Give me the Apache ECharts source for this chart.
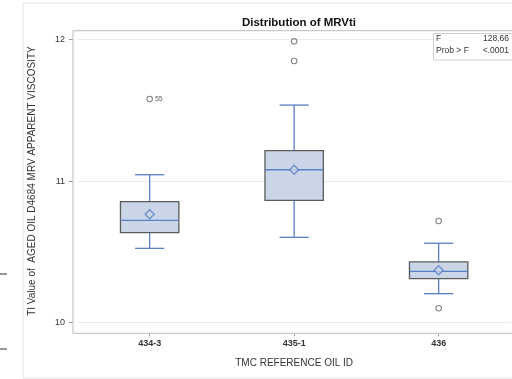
<!DOCTYPE html>
<html><head><meta charset="utf-8">
<script src="https://cdn.jsdelivr.net/npm/echarts@6/dist/echarts.min.js"></script>
<style>html,body{margin:0;padding:0;background:#fff}#c{width:512px;height:379px}</style>
</head><body><div id="c"></div>
<script>
const categories = ['434-3', '435-1', '436'];
const whiskerLow = [10.525, 10.603, 10.205];
const q1 = [10.636, 10.864, 10.311];
const median = [10.723, 11.08, 10.363];
const q3 = [10.855, 11.215, 10.429];
const whiskerHigh = [11.045, 11.537, 10.561];
const means = [10.766, 11.08, 10.37];
const outlierCat = [0, 1, 1, 2, 2];
const outlierVal = [11.58, 11.987, 11.848, 10.718, 10.102];
const outlierLabels = ['55', '', '', '', ''];
const yTicks = [10, 11, 12];

const FONT = '"Liberation Sans", Arial, sans-serif';
const BLUE = '#5a7fc6';
const FILL = '#cad6e7';
const EDGE = '#5c5c5c';

const boxData = categories.map((c, i) => [i, whiskerLow[i], q1[i], median[i], q3[i], whiskerHigh[i]]);
const meanData = categories.map((c, i) => [i, means[i]]);
const outData = outlierVal.map((v, i) => ({ value: [outlierCat[i], v], label: { show: !!outlierLabels[i], formatter: outlierLabels[i] } }));

const chart = echarts.init(document.getElementById('c'), null, { renderer: 'canvas' });
chart.setOption({
  animation: false,
  backgroundColor: '#fff',
  textStyle: { fontFamily: FONT },
  title: {
    text: 'Distribution of MRVti', left: 294, top: 12, textAlign: 'center',
    textStyle: { fontFamily: FONT, fontSize: 11.5, fontWeight: 'bold', color: '#111' }
  },
  grid: { left: 77.4, top: 39.5, width: 433.5, height: 283.2, containLabel: false },
  xAxis: {
    type: 'category', data: categories, offset: 10.6,
    axisLine: { show: false },
    axisTick: { show: true, alignWithLabel: true, length: 3, lineStyle: { color: '#999' } },
    axisLabel: { margin: 6, fontSize: 9, fontWeight: 'bold', color: '#333', fontFamily: FONT },
    name: 'TMC REFERENCE OIL ID', nameLocation: 'middle', nameGap: 25,
    nameTextStyle: { fontSize: 10, color: '#333', fontFamily: FONT }
  },
  yAxis: {
    type: 'value', min: yTicks[0], max: yTicks[yTicks.length - 1], interval: 1, offset: 4.4,
    axisLine: { show: false },
    axisTick: { show: true, length: 4, lineStyle: { color: '#999' } },
    axisLabel: { margin: 8, fontSize: 9, color: '#333', fontFamily: FONT },
    splitLine: { show: true, lineStyle: { color: '#ececec' } },
    name: 'TI Value of  AGED OIL D4684 MRV APPARENT VISCOSITY', nameLocation: 'middle', nameGap: 36,
    nameTextStyle: { fontSize: 10, color: '#333', fontFamily: FONT }
  },
  graphic: [
    { type: 'rect', silent: true, z: -10, shape: { x: 23, y: 3, width: 600, height: 375 }, style: { fill: 'none', stroke: '#e2e2e2', lineWidth: 1 } },
    { type: 'rect', silent: true, z: 1, shape: { x: 73, y: 30.7, width: 500, height: 302.6 }, style: { fill: 'none', stroke: '#bdbdbd', lineWidth: 1 } },
    { type: 'line', silent: true, shape: { x1: 0, y1: 274, x2: 7, y2: 274 }, style: { stroke: '#777', lineWidth: 1.5 } },
    { type: 'line', silent: true, shape: { x1: 0, y1: 349, x2: 7, y2: 349 }, style: { stroke: '#777', lineWidth: 1.5 } },
    { type: 'rect', silent: true, z: 20, shape: { x: 433.5, y: 33.5, width: 90, height: 26.5 }, style: { fill: '#fff', stroke: '#d0d0d0', lineWidth: 1 } },
    { type: 'text', silent: true, z: 21, left: 436, top: 34.5, style: { text: 'F', font: '8.5px ' + FONT, fill: '#333' } },
    { type: 'text', silent: true, z: 21, left: 436, top: 46.5, style: { text: 'Prob > F', font: '8.5px ' + FONT, fill: '#333' } },
    { type: 'text', silent: true, z: 21, right: 3, top: 34.5, style: { text: '128.66', font: '8.5px ' + FONT, fill: '#333', align: 'right' } },
    { type: 'text', silent: true, z: 21, right: 3, top: 46.5, style: { text: '<.0001', font: '8.5px ' + FONT, fill: '#333', align: 'right' } }
  ],
  series: [
    {
      type: 'custom', data: boxData, z: 3,
      encode: { x: 0, y: [1, 2, 3, 4, 5] },
      renderItem: function (params, api) {
        const x = api.value(0);
        const lo = api.coord([x, api.value(1)]);
        const b1 = api.coord([x, api.value(2)]);
        const md = api.coord([x, api.value(3)]);
        const b3 = api.coord([x, api.value(4)]);
        const hi = api.coord([x, api.value(5)]);
        const bw = api.size([1, 0])[0] * 0.404;
        const cw = bw / 2;
        const cx = lo[0];
        const ls = { stroke: BLUE, lineWidth: 1.3 };
        return {
          type: 'group', children: [
            { type: 'line', shape: { x1: cx, y1: hi[1], x2: cx, y2: b3[1] }, style: ls },
            { type: 'line', shape: { x1: cx, y1: b1[1], x2: cx, y2: lo[1] }, style: ls },
            { type: 'line', shape: { x1: cx - cw / 2, y1: hi[1], x2: cx + cw / 2, y2: hi[1] }, style: ls },
            { type: 'line', shape: { x1: cx - cw / 2, y1: lo[1], x2: cx + cw / 2, y2: lo[1] }, style: ls },
            { type: 'rect', shape: { x: cx - bw / 2, y: b3[1], width: bw, height: b1[1] - b3[1] }, style: { fill: FILL, stroke: EDGE, lineWidth: 1.3 } },
            { type: 'line', shape: { x1: cx - bw / 2, y1: md[1], x2: cx + bw / 2, y2: md[1] }, style: ls }
          ]
        };
      }
    },
    {
      type: 'scatter', data: meanData, z: 5, symbol: 'diamond', symbolSize: [9, 9],
      itemStyle: { color: FILL, borderColor: BLUE, borderWidth: 1.5 }
    },
    {
      type: 'scatter', data: outData, z: 5, symbol: 'circle', symbolSize: 5.5,
      itemStyle: { color: '#fff', borderColor: '#666', borderWidth: 1.1 },
      label: { position: 'right', distance: 2, fontSize: 7, color: '#333', fontFamily: FONT }
    }
  ]
});
</script></body></html>
